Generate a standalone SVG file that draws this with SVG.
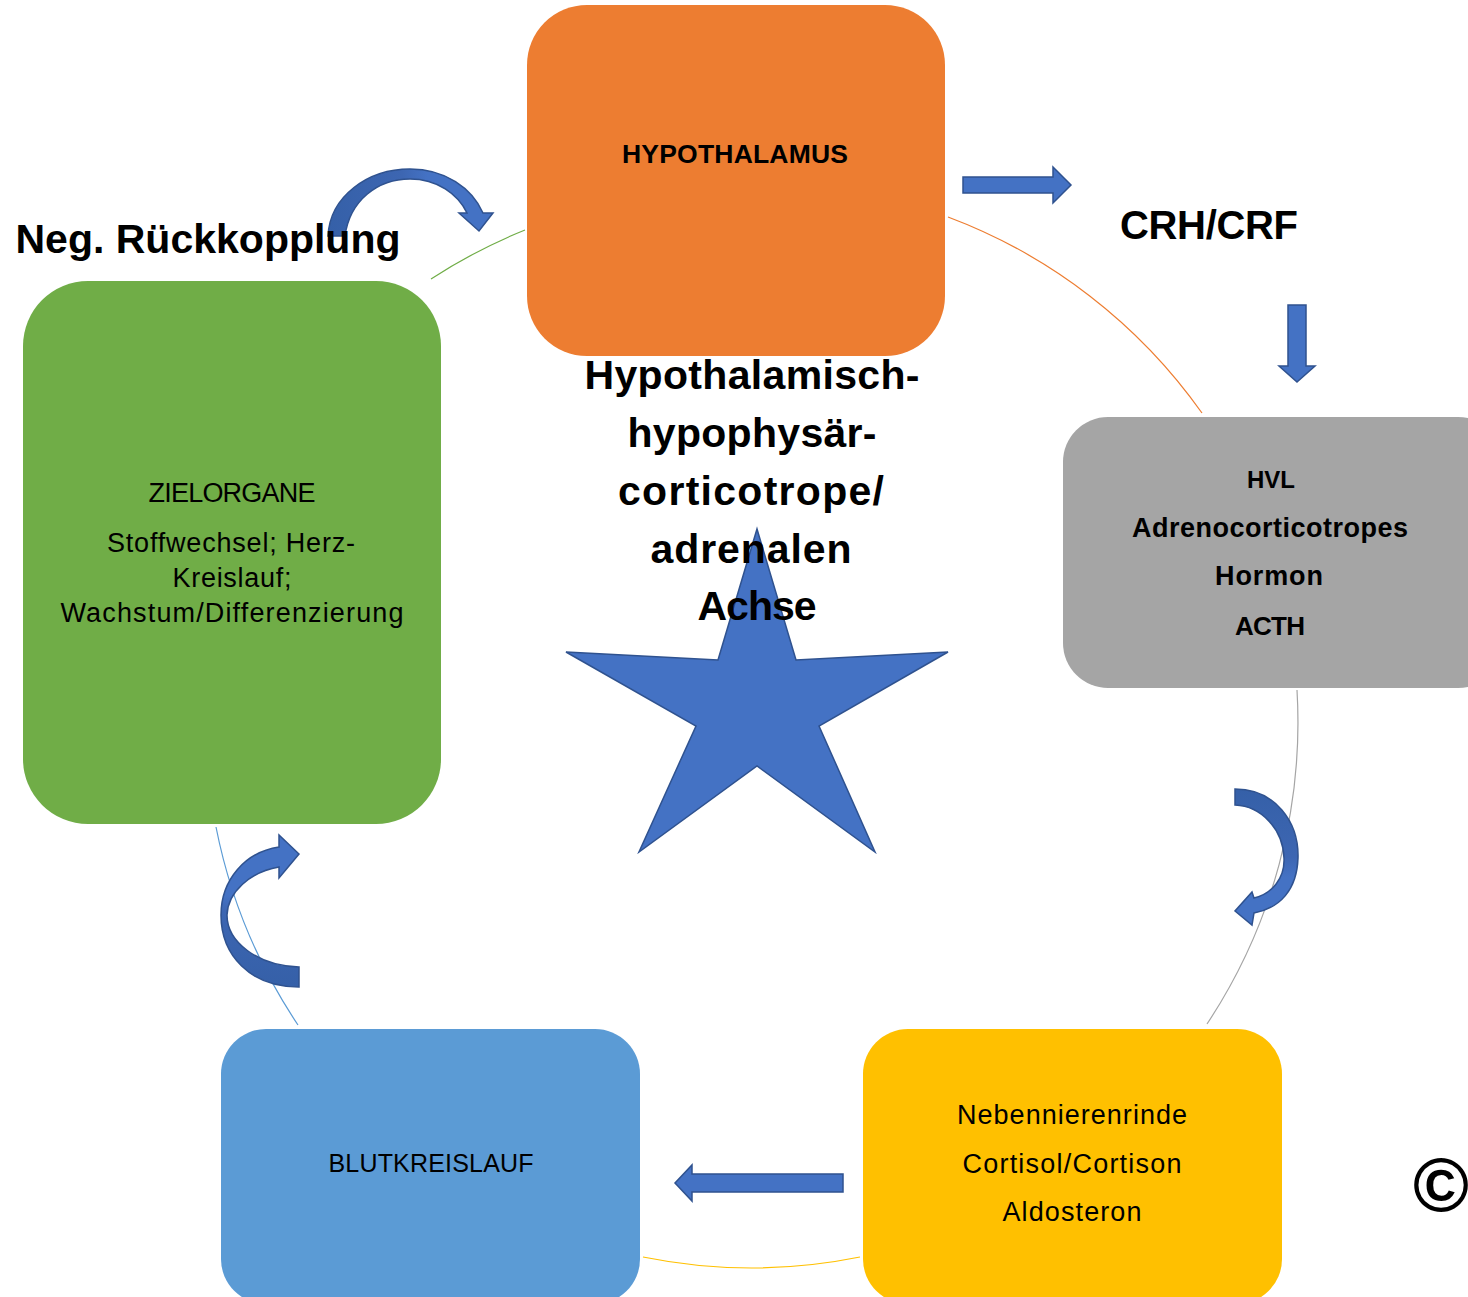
<svg xmlns="http://www.w3.org/2000/svg" width="1468" height="1297" viewBox="0 0 1468 1297">
<style>
.b{font-family:"Liberation Sans",Arial,sans-serif;font-weight:bold;fill:#000;text-anchor:middle}
.r{font-family:"Liberation Sans",Arial,sans-serif;fill:#000;text-anchor:middle;font-size:27px}
.arc{fill:none;stroke-width:1.2}
.arr{fill:#4472C4;stroke:#2F528F;stroke-width:1.5;stroke-linejoin:miter}
</style>
<defs>
<linearGradient id="gTop" x1="0" y1="0" x2="1" y2="0">
<stop offset="0" stop-color="#3560A8"/><stop offset="0.45" stop-color="#3D66B2"/><stop offset="0.6" stop-color="#4472C4"/>
</linearGradient>
<linearGradient id="gRight" x1="0" y1="0" x2="0" y2="1">
<stop offset="0" stop-color="#3560A8"/><stop offset="0.5" stop-color="#3D66B2"/><stop offset="0.65" stop-color="#4472C4"/>
</linearGradient>
<linearGradient id="gLeft" x1="0" y1="1" x2="0" y2="0">
<stop offset="0" stop-color="#3560A8"/><stop offset="0.5" stop-color="#3D66B2"/><stop offset="0.6" stop-color="#4472C4"/>
</linearGradient>
</defs>
<rect width="1468" height="1297" fill="#fff"/>

<g id="connectors">
<path class="arc" stroke="#70AD47" d="M 431 279 A 546 546 0 0 1 525 230"/>
<path class="arc" stroke="#ED7D31" d="M 948 217 A 546 546 0 0 1 1202 413"/>
<path class="arc" stroke="#A5A5A5" d="M 1297 690 A 546 546 0 0 1 1207 1024"/>
<path class="arc" stroke="#FFC000" d="M 860 1257 A 546 546 0 0 1 643 1257"/>
<path class="arc" stroke="#5B9BD5" d="M 298 1025 A 546 546 0 0 1 216 827"/>
<path class="arr" d="M 963 177 L 1053 177 L 1053 167 L 1071 185 L 1053 203 L 1053 193 L 963 193 Z"/>
<path class="arr" d="M 1288 305 L 1306 305 L 1306 366 L 1315 366 L 1297 382 L 1279 366 L 1288 366 Z"/>
<path class="arr" d="M 843 1174 L 692 1174 L 692 1165 L 675 1183 L 692 1201 L 692 1192 L 843 1192 Z"/>
<path class="arr" style="fill:url(#gTop)" d="M 328 236 C 330 196, 368 169, 410 169 C 445 169, 472 188, 483 213 L 493 213 L 479 231 L 459 213 L 467 213 C 458 194, 437 179, 410 179 C 378 179, 350 200, 345 236 Z"/>
<path class="arr" style="fill:url(#gRight)" d="M 1235 789 C 1275 789, 1299 822, 1298 858 C 1297 890, 1280 908, 1254 913 L 1252 925 L 1235 911 L 1252 892 L 1254 898 C 1272 894, 1285 878, 1284 858 C 1283 830, 1262 806, 1235 805 Z"/>
<path class="arr" style="fill:url(#gLeft)" d="M 279 847 L 279 835 L 299 854 L 279 878 L 279 867 C 250 872, 228 892, 227 915 C 227 942, 258 966, 299 967 L 299 987 C 250 987, 221 955, 221 915 C 221 880, 245 852, 279 847 Z"/>
</g>

<g id="hypothalamus">
<rect x="527" y="5" width="418" height="351" rx="60" fill="#ED7D31"/>
<text class="b" x="735" y="163" font-size="26.5" textLength="226">HYPOTHALAMUS</text>
</g>
<g id="hvl">
<rect x="1063" y="417" width="440" height="271" rx="45" fill="#A5A5A5"/>
<text class="b" font-size="24" x="1271" y="488" textLength="48">HVL</text>
<text class="b" font-size="27" x="1270" y="537" textLength="276">Adrenocorticotropes</text>
<text class="b" font-size="27" x="1269" y="585" textLength="108">Hormon</text>
<text class="b" font-size="26" x="1270" y="635" textLength="70">ACTH</text>
</g>
<g id="zielorgane">
<rect x="23" y="281" width="418" height="543" rx="65" fill="#70AD47"/>
<text class="r" x="232" y="502" font-size="26" textLength="167">ZIELORGANE</text>
<text class="r" x="231" y="552" textLength="248">Stoffwechsel; Herz-</text>
<text class="r" x="232" y="587" textLength="119">Kreislauf;</text>
<text class="r" x="232" y="622" textLength="343">Wachstum/Differenzierung</text>
</g>
<g id="blutkreislauf">
<rect x="221" y="1029" width="419" height="275" rx="45" fill="#5B9BD5"/>
<text class="r" x="431" y="1172" style="font-size:25px" textLength="205">BLUTKREISLAUF</text>
</g>
<g id="nebennierenrinde">
<rect x="863" y="1029" width="419" height="275" rx="45" fill="#FFC000"/>
<text class="r" x="1072" y="1124" textLength="230">Nebennierenrinde</text>
<text class="r" x="1072" y="1173" textLength="219">Cortisol/Cortison</text>
<text class="r" x="1072" y="1221" textLength="139">Aldosteron</text>
</g>

<g id="achse">
<polygon points="757,529 796,660 948,652 819,726 875,852 757,766 639,852 696,726 566,652 718,660" fill="#4472C4" stroke="#2F528F" stroke-width="1.5"/>
<text class="b" font-size="41" x="752" y="389" textLength="335">Hypothalamisch-</text>
<text class="b" font-size="41" x="752" y="447" textLength="249">hypophysär-</text>
<text class="b" font-size="41" x="751" y="505" textLength="266">corticotrope/</text>
<text class="b" font-size="41" x="751" y="563" textLength="201">adrenalen</text>
<text class="b" font-size="41" x="757" y="620" textLength="119">Achse</text>
</g>

<text class="b" font-size="41" x="208" y="253" textLength="385">Neg. Rückkopplung</text>
<text class="b" font-size="40" x="1209" y="239" textLength="178">CRH/CRF</text>
<text class="b" font-size="76" x="1441" y="1211">©</text>
</svg>
